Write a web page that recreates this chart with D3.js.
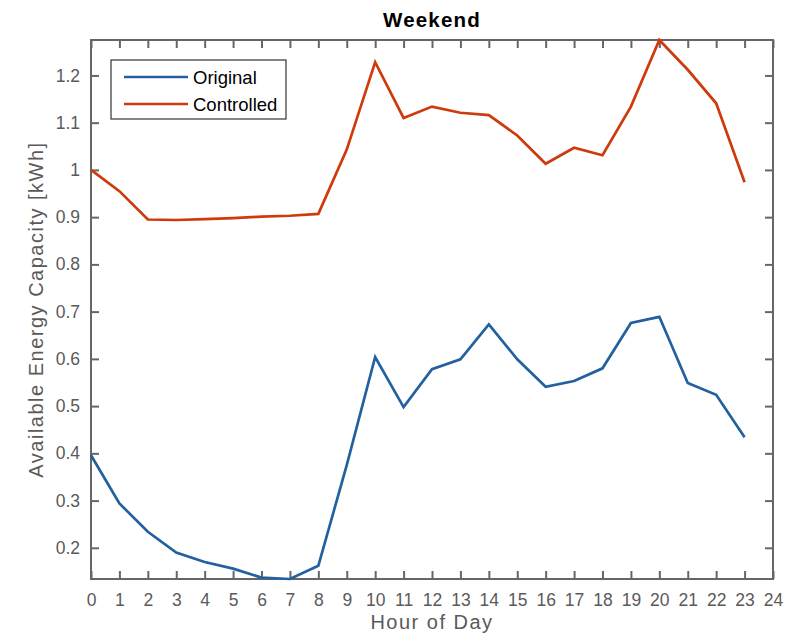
<!DOCTYPE html>
<html>
<head>
<meta charset="utf-8">
<script src="https://cdn.jsdelivr.net/npm/d3@7"></script>
<style>
  html, body { margin: 0; padding: 0; background: #fff; }
  svg { display: block; font-family: "Liberation Sans", Arial, Helvetica, sans-serif; }
</style>
</head>
<body>
<svg id="chart" width="792" height="644"></svg>
<script>
// Hour of day, 0..23
const hours = d3.range(0, 24);

// Available energy capacity [kWh] per hour, weekend profile
const original = [0.396, 0.294, 0.234, 0.190, 0.170, 0.156, 0.137, 0.134, 0.162, 0.375,
                  0.604, 0.498, 0.578, 0.599, 0.673, 0.599, 0.541, 0.553, 0.580, 0.676,
                  0.689, 0.549, 0.524, 0.434];
const controlled = [1.000, 0.955, 0.895, 0.894, 0.896, 0.898, 0.901, 0.903, 0.907, 1.043,
                    1.228, 1.110, 1.134, 1.121, 1.116, 1.073, 1.013, 1.047, 1.031, 1.134,
                    1.275, 1.212, 1.141, 0.974];

const xTicks = d3.range(0, 25);
const yTicks = [0.2, 0.3, 0.4, 0.5, 0.6, 0.7, 0.8, 0.9, 1.0, 1.1, 1.2];

const seriesNames = ["Original", "Controlled"];
const seriesColors = ["#22609f", "#cf3a0c"];

const svg = d3.select("#chart");
const plot = { left: 91, right: 773, top: 40, bottom: 579 };

const x = d3.scaleLinear().domain([0, 24]).range([plot.left, plot.right]);
// tight y-limits: from the smallest to the largest plotted value
const y = d3.scaleLinear()
  .domain([d3.min(original.concat(controlled)), d3.max(original.concat(controlled))])
  .range([plot.bottom, plot.top]);

const axisColor = "#666666";
const labelColor = "#5a5a5a";
const fmt = v => (Math.abs(v - 1) < 1e-9 ? "1" : d3.format(".1f")(v));

// Axes with inward ticks on all four sides
const tickLen = 8;
const gB = svg.append("g").attr("transform", `translate(0,${plot.bottom})`)
  .call(d3.axisBottom(x).tickValues(xTicks).tickSizeInner(-tickLen).tickSizeOuter(0).tickPadding(16).tickFormat(d3.format("d")));
const gT = svg.append("g").attr("transform", `translate(0,${plot.top})`)
  .call(d3.axisTop(x).tickValues(xTicks).tickSizeInner(-tickLen).tickSizeOuter(0).tickFormat(""));
const gL = svg.append("g").attr("transform", `translate(${plot.left},0)`)
  .call(d3.axisLeft(y).tickValues(yTicks).tickSizeInner(-tickLen).tickSizeOuter(0).tickPadding(11).tickFormat(fmt));
const gR = svg.append("g").attr("transform", `translate(${plot.right},0)`)
  .call(d3.axisRight(y).tickValues(yTicks).tickSizeInner(-tickLen).tickSizeOuter(0).tickFormat(""));

[gB, gT, gL, gR].forEach(g => {
  g.selectAll(".domain").remove();
  g.selectAll(".tick line").attr("stroke", axisColor).attr("stroke-width", 2);
  g.selectAll(".tick text").attr("fill", labelColor).style("font-size", "17.5px")
    .style("font-family", "'Liberation Sans', Arial, sans-serif");
});
gB.selectAll(".tick text").attr("dy", "0.62em");

// Box outline
svg.append("rect")
  .attr("x", plot.left).attr("y", plot.top)
  .attr("width", plot.right - plot.left).attr("height", plot.bottom - plot.top)
  .attr("fill", "none").attr("stroke", axisColor).attr("stroke-width", 2);

// Data lines
const line = d3.line().x((d, i) => x(hours[i])).y(d => y(d));
[original, controlled].forEach((vals, k) => {
  svg.append("path")
    .datum(vals)
    .attr("d", line)
    .attr("fill", "none")
    .attr("stroke", seriesColors[k])
    .attr("stroke-width", 2.7)
    .attr("stroke-linejoin", "miter");
});

// Title and axis labels
svg.append("text")
  .attr("x", (plot.left + plot.right) / 2).attr("y", 27)
  .attr("text-anchor", "middle")
  .style("font-size", "20.5px").style("font-weight", "bold").style("letter-spacing", "1.2px")
  .attr("fill", "#000")
  .text("Weekend");

svg.append("text")
  .attr("x", (plot.left + plot.right) / 2).attr("y", 629)
  .attr("text-anchor", "middle")
  .style("font-size", "20px").style("letter-spacing", "1.5px").attr("fill", labelColor)
  .text("Hour of Day");

svg.append("text")
  .attr("transform", `translate(43,${(plot.top + plot.bottom) / 2}) rotate(-90)`)
  .attr("text-anchor", "middle")
  .style("font-size", "20px").style("letter-spacing", "1.5px").attr("fill", labelColor)
  .text("Available Energy Capacity [kWh]");

// Legend
const lg = svg.append("g").attr("transform", "translate(111,60)");
lg.append("rect").attr("width", 175).attr("height", 59)
  .attr("fill", "#fff").attr("stroke", "#333").attr("stroke-width", 1.2);
seriesNames.forEach((name, k) => {
  const yy = 17 + k * 27;
  lg.append("line").attr("x1", 13).attr("x2", 77).attr("y1", yy).attr("y2", yy)
    .attr("stroke", seriesColors[k]).attr("stroke-width", 2.7);
  lg.append("text").attr("x", 82).attr("y", yy + 7)
    .style("font-size", "18.5px").attr("fill", "#000").text(name);
});
</script>
</body>
</html>
